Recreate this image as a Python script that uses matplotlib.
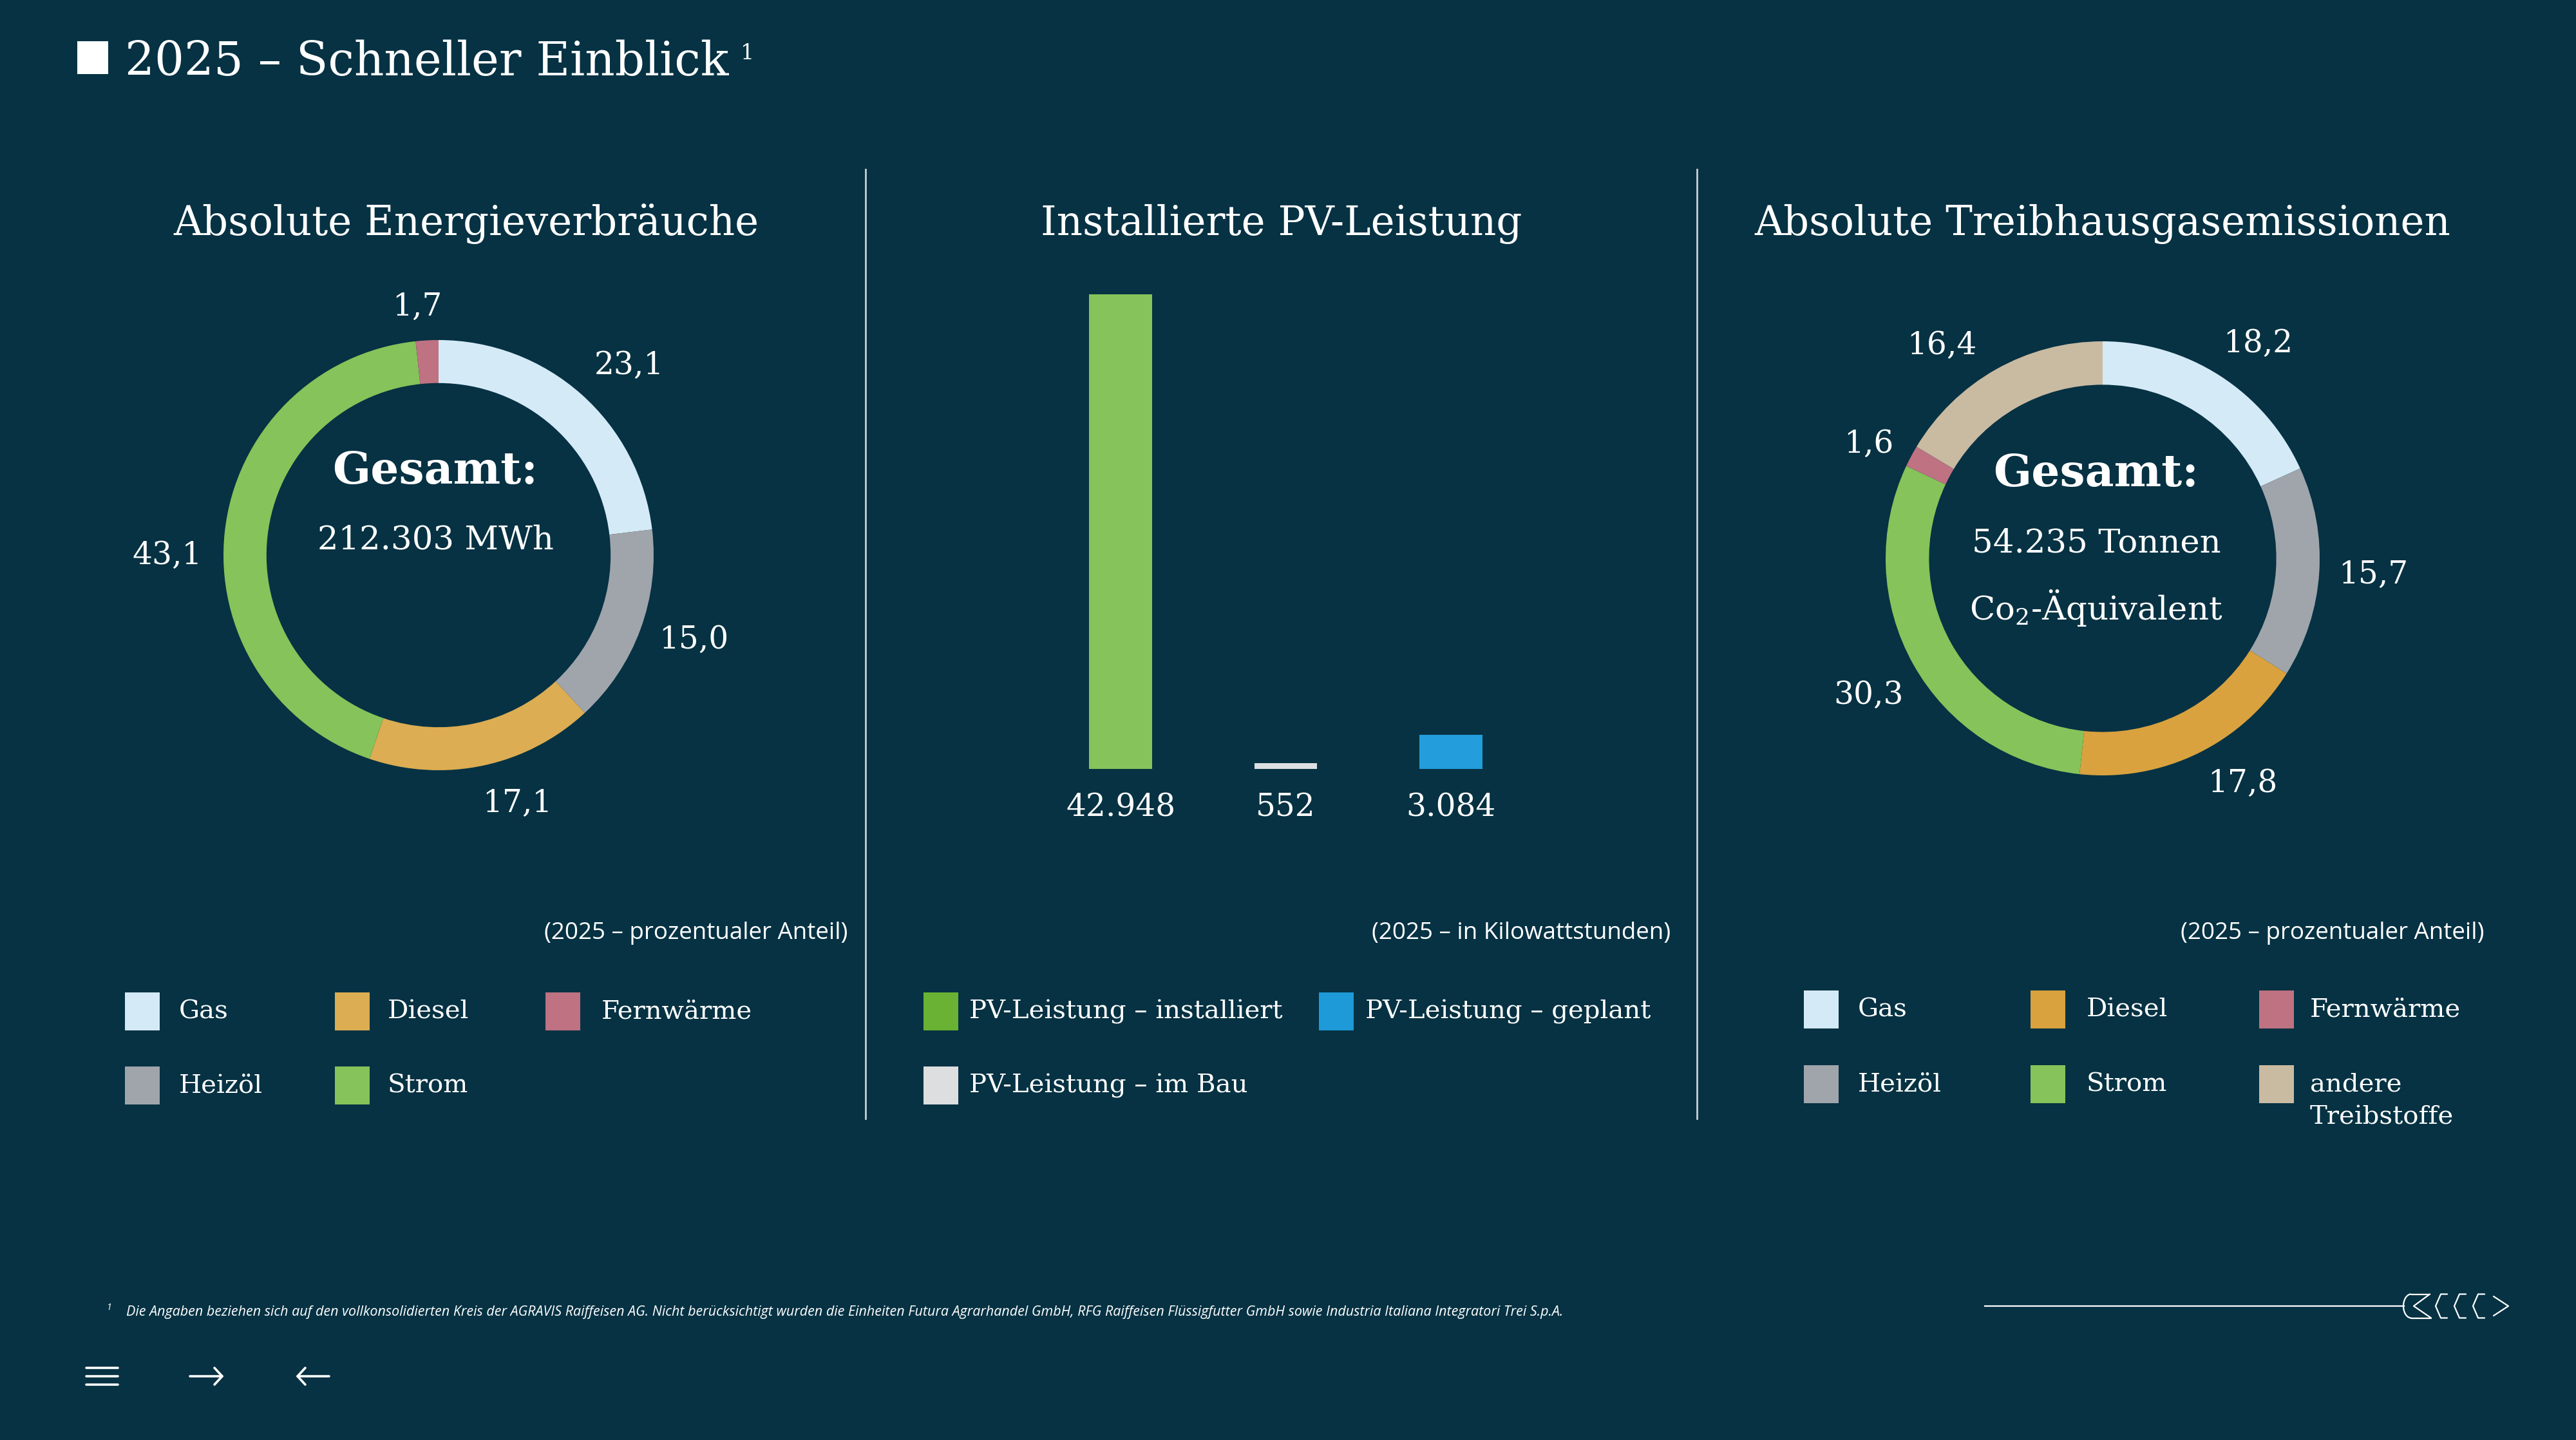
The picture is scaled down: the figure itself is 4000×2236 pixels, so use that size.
import numpy as np
import matplotlib.pyplot as plt
from matplotlib.patches import Rectangle, Arc
from matplotlib.lines import Line2D

W, H = 4000, 2236
BG = '#063243'
SERIF = 'DejaVu Serif'
SANS = 'Open Sans'

# --- data ---
energy_labels = ['Gas', 'Heizöl', 'Diesel', 'Strom', 'Fernwärme']
energy_values = [23.1, 15.0, 17.1, 43.1, 1.7]
energy_colors = ['#d5eaf7', '#a0a5ab', '#dcad52', '#86c35a', '#be7282']
energy_total = '212.303 MWh'

ghg_labels = ['Gas', 'Heizöl', 'Diesel', 'Strom', 'Fernwärme', 'andere\nTreibstoffe']
ghg_values = [18.2, 15.7, 17.8, 30.3, 1.6, 16.4]
ghg_colors = ['#d5eaf7', '#a0a5ab', '#d9a23e', '#86c35a', '#be7282', '#c9baa2']
ghg_total = ['54.235 Tonnen', 'Co$_\\mathregular{2}$-Äquivalent']

pv_labels = ['PV-Leistung – installiert', 'PV-Leistung – im Bau', 'PV-Leistung – geplant']
pv_values = [42948, 552, 3084]
pv_colors = ['#86c35a', '#dcdfe2', '#239ddb']
pv_legend_colors = ['#6ab233', '#dcdee0', '#1e9ad8']

# label placement tweaks (angle nudge in degrees, distance in radii)
energy_nudge = [-3.6, 1.8, 5.5, 6.3, 1.9]
energy_dist = [1.25, 1.25, 1.21, 1.26, 1.16]
ghg_nudge = [-3.1, 0.3, 6.0, 1.0, 2.1, 7.5]
ghg_dist = [1.22, 1.25, 1.22, 1.25, 1.20, 1.23]

fig = plt.figure(figsize=(W / 100, H / 100), dpi=100, facecolor=BG)


def fx(x):
    return x / W


def fy(y):
    return 1 - y / H


def ftext(x, y, s, **kw):
    kw.setdefault('color', 'white')
    kw.setdefault('family', SERIF)
    return fig.text(fx(x), fy(y), s, **kw)


def fline(xs, ys, **kw):
    fig.add_artist(Line2D([fx(v) for v in xs], [fy(v) for v in ys],
                          transform=fig.transFigure, **kw))


def de(v):
    return f'{v:.1f}'.replace('.', ',')


# --- header ---
fig.add_artist(Rectangle((fx(120), fy(115)), fx(48), 51 / H, transform=fig.transFigure,
                         color='white', lw=0))
ftext(194, 117, '2025 – Schneller Einblick', fontsize=52, va='baseline')
ftext(1150, 92, '1', fontsize=24, va='baseline')

# dividers
for xd in (1344, 2635):
    fline([xd, xd], [263, 1737], color='#c8d0d4', lw=2)

# section titles
ftext(724, 365, 'Absolute Energieverbräuche', fontsize=45, ha='center', va='baseline')
ftext(1990, 365, 'Installierte PV-Leistung', fontsize=45, ha='center', va='baseline')
ftext(3265, 365, 'Absolute Treibhausgasemissionen', fontsize=45, ha='center', va='baseline')


def donut(cx, cy, r, values, colors, nudge, dist):
    ax = fig.add_axes([fx(cx - r), fy(cy + r), 2 * r / W, 2 * r / H])
    wedges, _ = ax.pie(values, colors=colors, startangle=90, counterclock=False, radius=1,
                       wedgeprops=dict(width=0.2, linewidth=0))
    for w, v, dn, d in zip(wedges, values, nudge, dist):
        ang = np.deg2rad((w.theta1 + w.theta2) / 2 + dn)
        ax.text(d * np.cos(ang), d * np.sin(ang), de(v), ha='center', va='center',
                color='white', family=SERIF, fontsize=35)
    ax.set_xlim(-1, 1)
    ax.set_ylim(-1, 1)
    ax.set_aspect('equal')
    ax.axis('off')
    return ax


donut(681, 862, 334, energy_values, energy_colors, energy_nudge, energy_dist)
ftext(676, 732, 'Gesamt:', fontsize=50, weight='bold', ha='center', va='center')
ftext(676, 839, energy_total, fontsize=37, ha='center', va='center')

donut(3265, 867, 337, ghg_values, ghg_colors, ghg_nudge, ghg_dist)
ftext(3255, 735, 'Gesamt:', fontsize=50, weight='bold', ha='center', va='center')
ftext(3255, 844, ghg_total[0], fontsize=37, ha='center', va='center')
ftext(3255, 944, ghg_total[1], fontsize=37, ha='center', va='center')

# --- bar chart ---
bax = fig.add_axes([fx(1612), fy(1194), 769 / W, (1194 - 457) / H])
bax.set_facecolor('none')
xpos = np.arange(len(pv_values))
bax.bar(xpos, pv_values, width=0.38, color=pv_colors, linewidth=0)
for xi, v in zip(xpos, pv_values):
    bax.annotate(f'{v:,}'.replace(',', '.'), (xi, 0), xytext=(0, -60), textcoords='offset pixels',
                 ha='center', va='center', color='white', family=SERIF, fontsize=35)
bax.set_xlim(-0.5, 2.5)
bax.set_ylim(0, max(pv_values))
bax.axis('off')

# units
ftext(1316, 1449, '(2025 – prozentualer Anteil)', family=SANS, fontsize=26.5, ha='right', va='center')
ftext(2594, 1449, '(2025 – in Kilowattstunden)', family=SANS, fontsize=26.5, ha='right', va='center')
ftext(3857, 1449, '(2025 – prozentualer Anteil)', family=SANS, fontsize=26.5, ha='right', va='center')


# --- legends ---
def legend_item(x, y, color, label, tx):
    fig.add_artist(Rectangle((fx(x), fy(y + 29)), 54 / W, 59 / H, transform=fig.transFigure,
                             color=color, lw=0))
    for k, line in enumerate(label.split('\n')):
        ftext(tx, y + 51 * k, line, fontsize=29, va='center')


e_pos = {'Gas': (194, 1571, 278), 'Diesel': (520, 1571, 602), 'Fernwärme': (847, 1571, 934),
         'Heizöl': (194, 1686, 278), 'Strom': (520, 1686, 602)}
for lab, col in zip(energy_labels, energy_colors):
    x, y, tx = e_pos[lab]
    legend_item(x, y, col, lab, tx)

p_pos = [(1434, 1571, 1505), (1434, 1686, 1505), (2048, 1571, 2120)]
for lab, col, (x, y, tx) in zip(pv_labels, pv_legend_colors, p_pos):
    legend_item(x, y, col, lab, tx)

g_pos = [(2801, 1568, 2885), (2801, 1684, 2885), (3153, 1568, 3240), (3153, 1684, 3240),
         (3508, 1568, 3587), (3508, 1684, 3587)]
for lab, col, (x, y, tx) in zip(ghg_labels, ghg_colors, g_pos):
    legend_item(x, y, col, lab, tx)

# --- footnote ---
ftext(166, 2031, '1', family=SANS, fontsize=10, va='center', style='italic')
ftext(196, 2038, 'Die Angaben beziehen sich auf den vollkonsolidierten Kreis der AGRAVIS Raiffeisen AG. '
      'Nicht berücksichtigt wurden die Einheiten Futura Agrarhandel GmbH, RFG Raiffeisen Flüssigfutter '
      'GmbH sowie Industria Italiana Integratori Trei S.p.A.',
      family=SANS, fontsize=15.5, va='center', style='italic')

# --- navigation ---
nav = dict(color='white', lw=2.6, solid_capstyle='round')
for yl in (2124, 2137, 2150):
    fline([134, 183], [yl, yl], **nav)
fline([295, 345], [2137, 2137], **nav)
fline([333, 345, 333], [2124, 2137, 2150], **nav)
fline([462, 511], [2137, 2137], **nav)
fline([474, 462, 474], [2124, 2137, 2150], **nav)

# right decoration: line + ear icon
fline([3082, 3733], [2028, 2028], color='white', lw=1.6)
icon = fig.add_axes([fx(3700), fy(2063), 220 / W, 70 / H])
icon.set_xlim(0, 220)
icon.set_ylim(-35, 35)
icon.axis('off')
ic = dict(color='white', lw=1.6, solid_capstyle='round')
icon.add_patch(Arc((44, 0), 24, 37, theta1=90, theta2=270, color='white', lw=1.6))
icon.plot([44, 73], [18.5, 18.5], **ic)
icon.plot([44, 75], [-18.5, -18.5], **ic)
icon.plot([73, 48, 75], [18.5, 0, -18.5], **ic)
for p in (82, 111, 140):
    icon.plot([p + 18, p + 8, p, p + 8, p + 18], [18.5, 18.5, 0, -18.5, -18.5], **ic)
icon.plot([172, 195, 172], [15, 0, -15], **ic)

fig.savefig('out.png', dpi=100, facecolor=BG)
